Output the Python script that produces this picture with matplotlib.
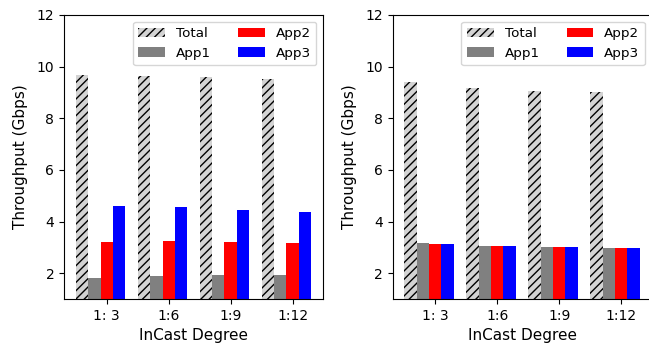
import numpy as np
import matplotlib
matplotlib.use("Agg")
import matplotlib.pyplot as plt

degrees = ["1: 3", "1:6", "1:9", "1:12"]

# left panel
total_l = [9.67, 9.64, 9.59, 9.51]
app1_l = [1.80, 1.88, 1.92, 1.92]
app2_l = [3.19, 3.24, 3.19, 3.15]
app3_l = [4.60, 4.55, 4.46, 4.38]

# right panel
total_r = [9.39, 9.18, 9.04, 9.00]
app1_r = [3.15, 3.07, 3.03, 2.98]
app2_r = [3.12, 3.07, 3.03, 2.98]
app3_r = [3.12, 3.07, 3.03, 2.98]

fig = plt.figure(figsize=(6.49, 3.46), dpi=100)
ax1 = fig.add_axes([64 / 649, 47 / 346, 259 / 649, 284 / 346])
ax2 = fig.add_axes([392.5 / 649, 47 / 346, 259 / 649, 284 / 346])

x = np.arange(len(degrees))
w = 0.2


def draw(ax, total, a1, a2, a3):
    ax.bar(x - 2 * w, total, w, color="lightgray", hatch="////", linewidth=0, label="Total")
    ax.bar(x - w, a1, w, color="gray", label="App1")
    ax.bar(x, a2, w, color="red", label="App2")
    ax.bar(x + w, a3, w, color="blue", label="App3")
    ax.set_ylim(1, 12)
    ax.set_yticks([2, 4, 6, 8, 10, 12])
    ax.set_xticks(x)
    ax.set_xticklabels(degrees)
    ax.set_xlabel("InCast Degree", fontsize=11)
    ax.set_ylabel("Throughput (Gbps)", fontsize=11, labelpad=6)
    ax.legend(ncol=2, loc="upper right", fontsize=9.7)


draw(ax1, total_l, app1_l, app2_l, app3_l)
draw(ax2, total_r, app1_r, app2_r, app3_r)

fig.savefig("out.png", dpi=100)
